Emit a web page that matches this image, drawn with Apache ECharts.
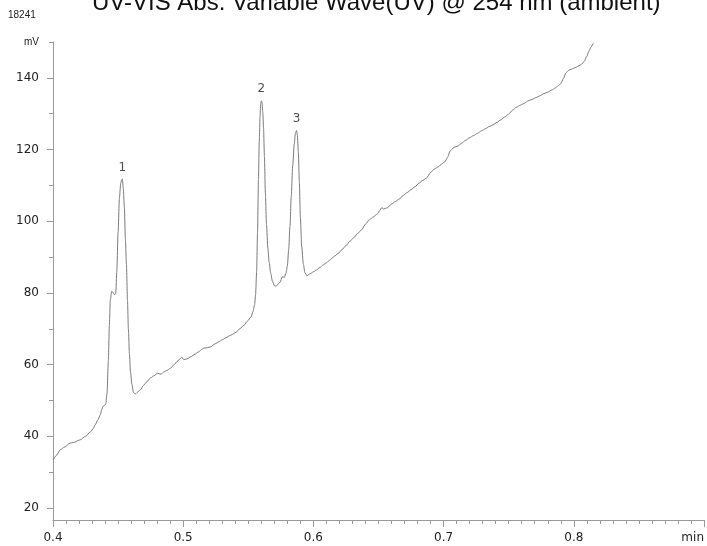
<!DOCTYPE html>
<html>
<head>
<meta charset="utf-8">
<script src="https://cdn.jsdelivr.net/npm/echarts@6/dist/echarts.min.js"></script>
<style>html,body{margin:0;padding:0;background:#fff}#c{width:707px;height:546px}</style>
</head>
<body>
<div id="c"></div>
<script>
// Chromatogram trace (retention time in min, signal in mV)
const times = [
0.4000,0.4030,0.4054,0.4090,0.4131,0.4160,0.4208,0.4250,0.4286,0.4310,
0.4324,0.4345,0.4363,0.4375,0.4385,0.4395,0.4405,0.4415,0.4425,0.4433,
0.4440,0.4450,0.4460,0.4472,0.4482,0.4490,0.4500,0.4510,0.4520,0.4527,
0.4533,0.4540,0.4548,0.4556,0.4564,0.4572,0.4579,0.4587,0.4595,0.4606,
0.4618,0.4633,0.4649,0.4672,0.4695,0.4720,0.4749,0.4776,0.4803,0.4830,
0.4849,0.4875,0.4903,0.4930,0.4958,0.4975,0.4990,0.5004,0.5030,0.5058,
0.5090,0.5120,0.5140,0.5158,0.5185,0.5212,0.5245,0.5274,0.5300,0.5328,
0.5365,0.5405,0.5435,0.5467,0.5495,0.5521,0.5536,0.5548,0.5556,0.5564,
0.5571,0.5578,0.5584,0.5590,0.5595,0.5600,0.5605,0.5611,0.5617,0.5624,
0.5631,0.5640,0.5650,0.5660,0.5672,0.5685,0.5700,0.5714,0.5730,0.5745,
0.5760,0.5776,0.5790,0.5800,0.5810,0.5820,0.5830,0.5841,0.5853,0.5862,
0.5870,0.5877,0.5884,0.5892,0.5900,0.5910,0.5923,0.5935,0.5950,0.5977,
0.6000,0.6023,0.6050,0.6075,0.6100,0.6130,0.6160,0.6190,0.6220,0.6250,
0.6280,0.6310,0.6340,0.6370,0.6400,0.6430,0.6460,0.6490,0.6510,0.6525,
0.6540,0.6570,0.6600,0.6630,0.6660,0.6690,0.6720,0.6750,0.6780,0.6810,
0.6840,0.6870,0.6900,0.6930,0.6960,0.6990,0.7010,0.7030,0.7050,0.7080,
0.7110,0.7140,0.7170,0.7200,0.7230,0.7260,0.7290,0.7320,0.7350,0.7380,
0.7410,0.7440,0.7470,0.7500,0.7530,0.7560,0.7590,0.7620,0.7650,0.7680,
0.7710,0.7740,0.7770,0.7800,0.7830,0.7860,0.7880,0.7900,0.7920,0.7940,
0.7960,0.7980,0.8000,0.8020,0.8040,0.8060,0.8080,0.8100,0.8115,0.8130,
0.8150
];
const signal = [
33.4,34.8,36.2,37.0,38.1,38.3,39.0,40.0,41.2,42.2,
43.2,44.6,46.0,47.5,48.4,48.6,49.0,52.0,61.0,71.0,
78.0,80.4,80.2,79.5,79.8,86.0,97.0,106.5,110.5,111.6,
111.8,109.0,104.0,95.0,88.0,78.0,70.0,63.0,58.0,54.5,
52.2,51.8,52.3,53.0,54.2,55.2,56.3,56.9,57.6,57.3,
57.9,58.4,59.0,60.0,61.0,61.6,62.1,61.4,61.6,62.2,
62.9,63.6,64.2,64.6,64.7,65.0,65.8,66.4,66.9,67.5,
68.2,69.0,70.0,71.0,72.2,73.3,74.8,76.6,79.5,86.0,
97.0,111.5,122.0,129.0,132.6,133.6,133.2,130.5,126.0,118.0,
108.0,99.0,92.5,88.6,85.5,83.3,82.0,81.9,82.5,83.0,
84.5,84.3,85.6,87.5,92.0,98.5,107.0,115.5,121.5,124.6,
125.3,124.0,119.5,111.0,101.0,93.0,88.0,85.6,84.8,85.4,
85.9,86.4,87.1,87.8,88.4,89.3,90.2,91.0,92.1,93.2,
94.4,95.4,96.6,97.6,99.2,100.4,101.2,102.0,103.0,103.8,
103.4,103.8,104.8,105.5,106.2,107.2,108.0,108.8,109.6,110.6,
111.4,112.1,113.6,114.6,115.2,116.1,116.6,117.8,119.6,120.6,
121.0,121.8,122.6,123.3,123.9,124.5,125.2,125.8,126.4,126.9,
127.6,128.3,129.1,129.9,131.0,131.8,132.4,132.9,133.6,134.0,
134.5,135.0,135.6,136.0,136.6,137.2,137.8,138.4,139.8,141.4,
142.1,142.4,142.7,143.0,143.4,143.8,144.6,146.0,147.4,148.5,
149.6
];
const peakTimes = [0.4533, 0.5600, 0.5870];
const peakNames = ['1', '2', '3'];
const yLabelTicks = [20, 40, 60, 80, 100, 120, 140];
const yMinorTicks = [30, 50, 70, 90, 110, 130, 150];
const xTickLabels = ['0.4', '0.5', '0.6', '0.7', '0.8', 'min'];

const lineData = times.map((t, i) => [t, signal[i]]);
const peakData = peakTimes.map((pt, k) => {
  const i = times.indexOf(pt);
  return { value: [pt, signal[i]], name: peakNames[k] };
});

const chart = echarts.init(document.getElementById('c'), null, { renderer: 'canvas' });
const axisGrey = '#9a9a9a';
chart.setOption({
  animation: false,
  backgroundColor: '#ffffff',
  grid: { left: 53, right: 1, top: 42, bottom: 26, containLabel: false },
  graphic: [
    { type: 'text', left: 92, top: -9,
      style: { text: 'UV-VIS Abs. Variable Wave(UV) @ 254 nm (ambient)', fontSize: 24,
               fontFamily: 'Liberation Sans', fill: '#111' } },
    { type: 'text', left: 8, top: 10,
      style: { text: '18241', fontSize: 10, fontFamily: 'Liberation Sans Narrow, Liberation Sans', fill: '#222' } },
    { type: 'text', left: 24, top: 37,
      style: { text: 'mV', fontSize: 10, fontFamily: 'Liberation Sans Narrow, Liberation Sans', fill: '#222' } }
  ],
  xAxis: {
    type: 'value', min: 0.4, max: 0.9, interval: 0.1,
    axisLine: { show: true, lineStyle: { color: axisGrey, width: 1 } },
    axisTick: { show: true, length: 7, lineStyle: { color: axisGrey } },
    minorTick: { show: true, splitNumber: 10, length: 4, lineStyle: { color: axisGrey } },
    splitLine: { show: false },
    minorSplitLine: { show: false },
    axisLabel: {
      color: '#222', fontSize: 12, fontFamily: 'DejaVu Sans', margin: 12,
      alignMaxLabel: 'right',
      formatter: (v) => xTickLabels[Math.round((v - 0.4) * 10)]
    }
  },
  yAxis: [{
    type: 'value', min: 16.65, max: 150,
    axisLine: { show: true, lineStyle: { color: axisGrey, width: 1 } },
    axisTick: { show: true, length: 6, customValues: yLabelTicks, lineStyle: { color: axisGrey } },
    axisLabel: { show: true, customValues: yLabelTicks, color: '#222', fontSize: 12,
                 fontFamily: 'DejaVu Sans', margin: 14 },
    splitLine: { show: false }
  }, {
    type: 'value', min: 16.65, max: 150, position: 'left', offset: 0,
    axisLine: { show: false },
    axisTick: { show: true, length: 4, customValues: yMinorTicks, lineStyle: { color: axisGrey } },
    axisLabel: { show: false },
    splitLine: { show: false }
  }],
  series: [{
    type: 'line', yAxisIndex: 0, data: lineData, showSymbol: false, symbol: 'none',
    smooth: 0.25, smoothMonotone: 'x',
    lineStyle: { color: '#7a7a7a', width: 1 }
  }, {
    type: 'scatter', yAxisIndex: 0, data: peakData, symbolSize: 1,
    itemStyle: { color: 'rgba(0,0,0,0)' },
    label: { show: true, position: 'top', distance: 5, formatter: '{b}',
             color: '#222', fontSize: 12, fontFamily: 'DejaVu Sans' },
    labelLayout: { hideOverlap: false }
  }]
});
</script>
</body>
</html>
